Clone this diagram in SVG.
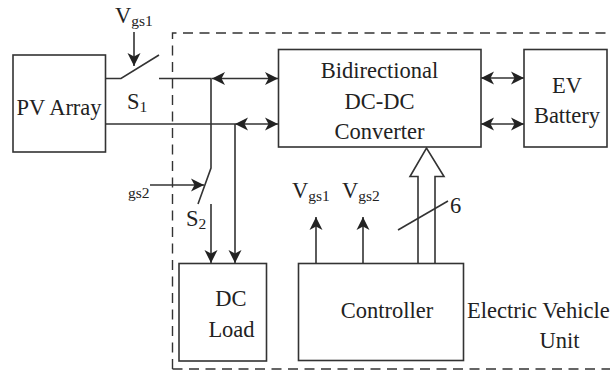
<svg xmlns="http://www.w3.org/2000/svg" width="610" height="370" viewBox="0 0 610 370">
<style>
text{font-family:"Liberation Serif","Times New Roman",serif;fill:#222;font-size:22.5px}
.m{text-anchor:middle}
.s{font-size:15.5px}
.b{fill:#fff;stroke:#333;stroke-width:1.6}
.w{fill:none;stroke:#333;stroke-width:1.6}
.d{fill:none;stroke:#333;stroke-width:1.4;stroke-dasharray:10 6.5}
</style>
<defs>
<marker id="a" markerUnits="userSpaceOnUse" markerWidth="15" markerHeight="15" refX="13" refY="7.500" orient="auto-start-reverse"><path d="M0 1 L13 7.500 L0 14 L3.500 7.500 Z" fill="#222"/></marker>
</defs>
<rect width="610" height="370" fill="#fff"/>
<g id="boundary">
<path class="d" d="M172.500 369V33H610"/>
<path class="d" d="M172.500 369H610"/>
</g>
<g id="connectors">
<path class="w" d="M105 78.500H121L159 55"/>
<path class="w" d="M159 78.500H211V168L198 204"/>
<path class="w" d="M105 124H235"/>
<path class="w" d="M212 78.500H278" marker-start="url(#a)" marker-end="url(#a)"/>
<path class="w" d="M235 124H278" marker-start="url(#a)" marker-end="url(#a)"/>
<path class="w" d="M235 124V263" marker-end="url(#a)"/>
<path class="w" d="M211 204V263" marker-end="url(#a)"/>
<path class="w" d="M134 32V66" marker-end="url(#a)"/>
<path class="w" d="M150 185H204" marker-end="url(#a)"/>
<path class="w" d="M481 78H524" marker-start="url(#a)" marker-end="url(#a)"/>
<path class="w" d="M481 124H524" marker-start="url(#a)" marker-end="url(#a)"/>
<path class="w" d="M316 263V217" marker-end="url(#a)"/>
<path class="w" d="M363 263V217" marker-end="url(#a)"/>
<path class="w" d="M418 263V176.500H410L426.500 148L444 176.500H435V263"/>
<path class="w" d="M398 230L448 201" stroke-width="1.200"/>
</g>
<g id="pv-array"><rect class="b" x="13" y="55" width="92.500" height="97"/><text class="m" x="59" y="115">PV Array</text></g>
<g id="converter"><rect class="b" x="278.500" y="49.500" width="202.500" height="97.500"/><text class="m" x="379.500" y="78">Bidirectional</text><text class="m" x="379.500" y="109">DC-DC</text><text class="m" x="379.500" y="139">Converter</text></g>
<g id="ev-battery"><rect class="b" x="524" y="49.500" width="83" height="97.500"/><text class="m" x="567" y="93">EV</text><text class="m" x="567" y="123">Battery</text></g>
<g id="dc-load"><rect class="b" x="179" y="263.500" width="87.500" height="97.500"/><text class="m" x="231" y="306">DC</text><text class="m" x="231.500" y="337">Load</text></g>
<g id="controller"><rect class="b" x="298.500" y="263.500" width="165" height="97"/><text class="m" x="387" y="318">Controller</text></g>
<g id="labels">
<text x="115" y="22.500">V<tspan class="s" dy="3">gs1</tspan></text>
<text x="127" y="109">S<tspan class="s" dy="3">1</tspan></text>
<text class="s" x="128" y="198">gs2</text>
<text x="186" y="226">S<tspan class="s" dy="3">2</tspan></text>
<text x="292" y="198">V<tspan class="s" dy="3">gs1</tspan></text>
<text x="342" y="198">V<tspan class="s" dy="3">gs2</tspan></text>
<text x="450" y="213">6</text>
<text x="467" y="318">Electric Vehicle</text>
<text class="m" x="559.500" y="348">Unit</text>
</g>
</svg>
